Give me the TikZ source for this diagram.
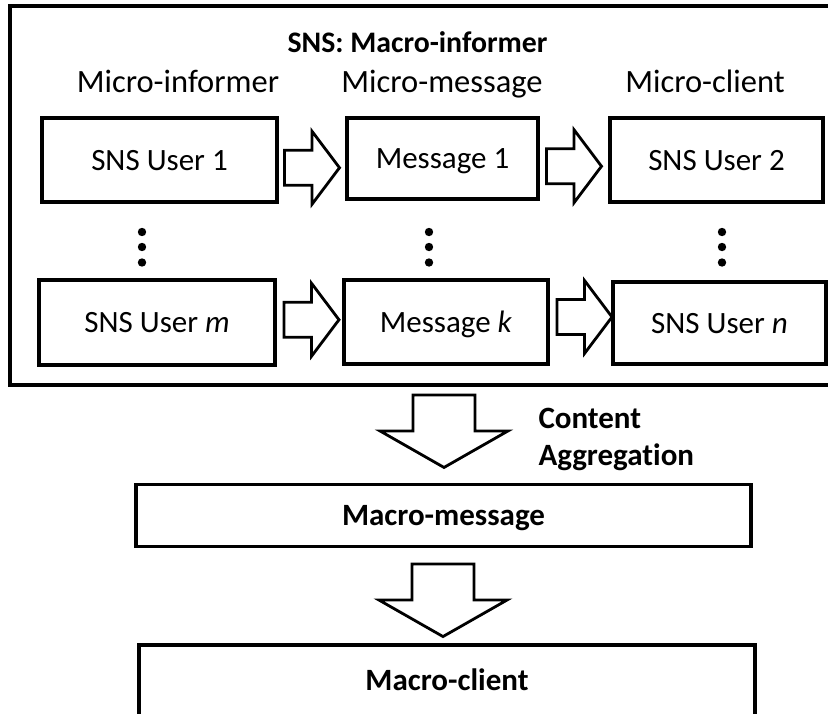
\documentclass[tikz,border=0pt]{standalone}
\usepackage{fontspec}
\setmainfont{Carlito}[Ligatures=NoCommon]
\usetikzlibrary{calc}
\tikzset{
  txt/.style={font=\fontsize{31}{37}\selectfont},
  headtxt/.style={font=\fontsize{32.5}{38}\selectfont},
  boldtxt/.style={font=\fontsize{31}{37}\selectfont\bfseries},
  frame/.style={draw, line width=3.2pt, inner sep=0pt},
  userbox/.style={draw, line width=3.1pt, inner sep=0pt, txt,
    text height=20pt, text depth=0pt},
  macrobox/.style={userbox, boldtxt},
  blockline/.style={draw, fill=white, line width=2.8pt, line join=miter},
  rblock/.pic={
    \path[blockline] (-27.5,-17.5) -- (0,-17.5) -- (0,-36.5) -- (27.5,0)
      -- (0,36.5) -- (0,17.5) -- (-27.5,17.5) -- cycle;
  },
  dblock/.pic={
    \path[blockline] (-31,-36) -- (31,-36) -- (31,0) -- (64,0)
      -- (0,36.5) -- (-64,0) -- (-31,0) -- cycle;
  },
  dot/.style={fill=black}
}
\begin{document}
\begin{tikzpicture}[x=1pt,y=-1pt]
\useasboundingbox (0,0) rectangle (828,713);
\clip (0,0) rectangle (828,713);

% outer frame of the SNS (open to the right)
\node[frame, minimum width=840pt, minimum height=379pt] (sns) at (430,195.5) {};
\node[font=\fontsize{29.8}{35}\selectfont\bfseries, anchor=base] (title)
  at (417.5,52) {SNS: Macro-informer};

% column headings
\node[headtxt, anchor=base] (hinf) at (178,92) {Micro-informer};
\node[headtxt, anchor=base] (hmsg) at (442,92) {Micro-message};
\node[headtxt, anchor=base] (hcli) at (705,92) {Micro-client};

% first row
\node[userbox, minimum width=235pt, minimum height=84pt] (u1) at (159.5,160) {SNS User 1};
\node[userbox, minimum width=191pt, minimum height=81pt] (m1) at (442.5,158.5) {Message 1};
\node[userbox, minimum width=213pt, minimum height=84pt] (u2) at (716.5,160) {SNS User 2};

% last row
\node[userbox, minimum width=236pt, minimum height=85pt] (um) at (157,322.5) {SNS User \textit{m}};
\node[userbox, minimum width=204pt, minimum height=84pt] (mk) at (446,322) {Message \textit{k}};
\node[userbox, minimum width=213pt, minimum height=82pt] (un) at (719.5,323) {SNS User \textit{n}};

% vertical ellipses
\foreach \x in {142,429,722}{
  \foreach \y in {232,247,262.5}{
    \fill[dot] (\x,\y) circle (4.2pt);
  }
}

% block arrows between the columns
\pic at ($(u1.east)!.5!(m1.west)+(0,8.5)$) {rblock};
\pic at ($(m1.east)!.5!(u2.west)+(0,7)$) {rblock};
\pic at ($(um.east)!.5!(mk.west)+(2,-2.5)$) {rblock};
\pic at ($(mk.east)!.5!(un.west)+(4,-5.5)$) {rblock};

% aggregation stage (the lower box runs past the bottom edge)
\node[macrobox, minimum width=615pt, minimum height=62pt] (mm) at (443.5,515.5) {Macro-message};
\node[macrobox, minimum width=616pt, minimum height=90pt] (mc) at (447,690) {\raisebox{10pt}{Macro-client}};

\pic at ($(mm.north)+(0.5,-52)$) {dblock};
\pic at ($(mm.south)+(-0.5,52)$) {dblock};

\node[boldtxt, align=left, anchor=west, text depth=0pt] (agg)
  at (535,437) {Content\\Aggregation};
\end{tikzpicture}
\end{document}
